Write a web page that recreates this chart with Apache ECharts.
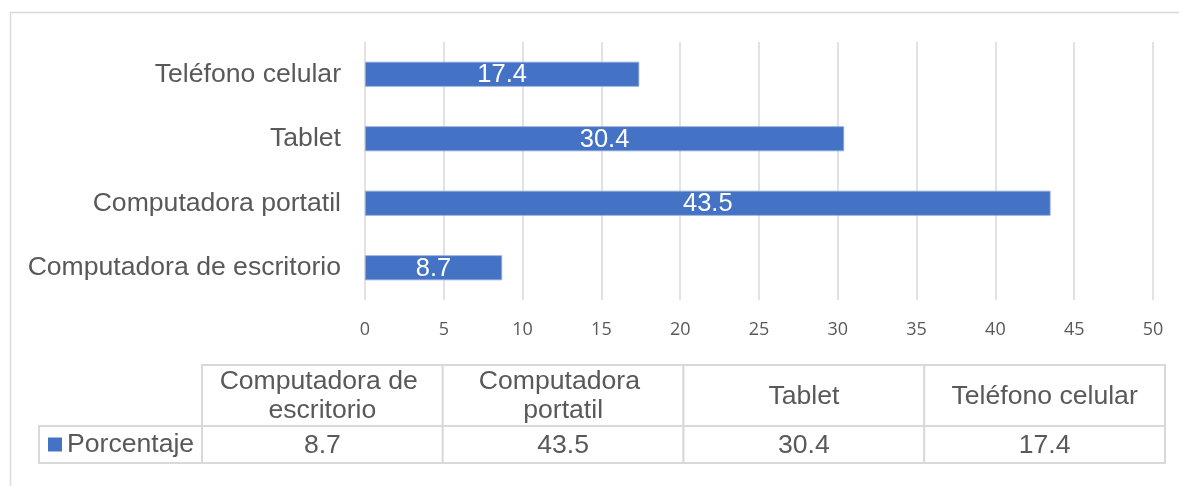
<!DOCTYPE html>
<html>
<head>
<meta charset="utf-8">
<script src="https://cdn.jsdelivr.net/npm/echarts@6/dist/echarts.min.js"></script>
<style>
  html, body { margin: 0; padding: 0; background: #fff; }
  #main { width: 1179px; height: 486px; }
</style>
</head>
<body>
<div id="main"></div>
<script>
// categorias (de abajo hacia arriba en el eje)
var categories = ['Computadora de escritorio', 'Computadora portatil', 'Tablet', 'Teléfono celular'];
var porcentaje = [8.7, 43.5, 30.4, 17.4];
var seriesName = 'Porcentaje';
// eje x
var xMin = 0;
var xMax = 50;
var xStep = 5;

var FONT = '"Liberation Sans", Arial, sans-serif';
var GRAY = '#595959';
var LINE = '#d9d9d9';

let myChart = echarts.init(document.getElementById('main'));

// celda de tabla (fila de encabezado o de valores)
function cellRenderer(texts) {
  return function (params, api) {
    var p = api.coord([api.value(0), api.value(1)]);
    var s = api.size([1, 1]);
    return {
      type: 'rect',
      shape: { x: p[0] - s[0] / 2, y: p[1] - s[1] / 2, width: s[0], height: s[1] },
      style: { fill: '#fff', stroke: LINE, lineWidth: 2 },
      textContent: {
        style: {
          text: texts[params.dataIndex],
          fontFamily: FONT,
          fontSize: 26.6,
          lineHeight: 29,
          fill: GRAY,
          align: 'center',
          width: s[0] - 14,
          overflow: 'break'
        }
      },
      textConfig: { position: 'inside', offset: [0, 1] }
    };
  };
}

let option = {
  backgroundColor: '#fff',
  animation: false,
  graphic: [
    {
      type: 'rect',
      shape: { x: 10.5, y: 12.5, width: 1200, height: 500 },
      style: { fill: 'none', stroke: LINE, lineWidth: 1.5 },
      silent: true
    },
    {
      type: 'rect',
      shape: { x: 39, y: 426, width: 163, height: 37 },
      style: { fill: '#fff', stroke: LINE, lineWidth: 2 },
      silent: true,
      z: 0
    }
  ],
  legend: {
    data: [seriesName],
    left: 48,
    top: 431,
    padding: 0,
    icon: 'rect',
    itemWidth: 14,
    itemHeight: 14,
    itemStyle: { borderWidth: 0 },
    textStyle: { fontFamily: FONT, fontSize: 26.6, color: GRAY },
    z: 10
  },
  grid: [
    { left: 365, top: 42, width: 788, height: 258 },
    { left: 202, top: 365, width: 963, height: 61 },
    { left: 202, top: 426, width: 963, height: 37 }
  ],
  xAxis: [
    {
      type: 'value',
      gridIndex: 0,
      min: xMin,
      max: xMax,
      interval: xStep,
      axisLine: { show: false },
      axisTick: { show: false },
      splitLine: { lineStyle: { color: LINE, width: 1.5 } },
      axisLabel: { fontFamily: '"Open Sans", sans-serif', fontSize: 18, color: GRAY, margin: 21 }
    },
    { type: 'category', gridIndex: 1, data: categories, show: false },
    { type: 'category', gridIndex: 2, data: categories, show: false }
  ],
  yAxis: [
    {
      type: 'category',
      gridIndex: 0,
      data: categories,
      axisLine: { show: false },
      axisTick: { show: false },
      axisLabel: { fontFamily: FONT, fontSize: 26.6, color: GRAY, margin: 24 }
    },
    { type: 'category', gridIndex: 1, data: ['h'], show: false },
    { type: 'category', gridIndex: 2, data: ['v'], show: false }
  ],
  series: [
    {
      name: seriesName,
      type: 'bar',
      data: porcentaje,
      barWidth: 25,
      itemStyle: { color: '#4472C4', borderColor: '#8eaadb', borderWidth: 0.8 },
      label: {
        show: true,
        position: 'inside',
        color: '#fff',
        fontFamily: FONT,
        fontSize: 25.5,
        offset: [0, 1]
      }
    },
    {
      name: 'encabezado',
      type: 'custom',
      xAxisIndex: 1,
      yAxisIndex: 1,
      silent: true,
      data: categories.map(function (c, i) { return [i, 0]; }),
      renderItem: cellRenderer(categories)
    },
    {
      name: 'valores',
      type: 'custom',
      xAxisIndex: 2,
      yAxisIndex: 2,
      silent: true,
      data: porcentaje.map(function (v, i) { return [i, 0]; }),
      renderItem: cellRenderer(porcentaje.map(function (v) { return v.toFixed(1); }))
    }
  ]
};
myChart.setOption(option);
</script>
</body>
</html>
